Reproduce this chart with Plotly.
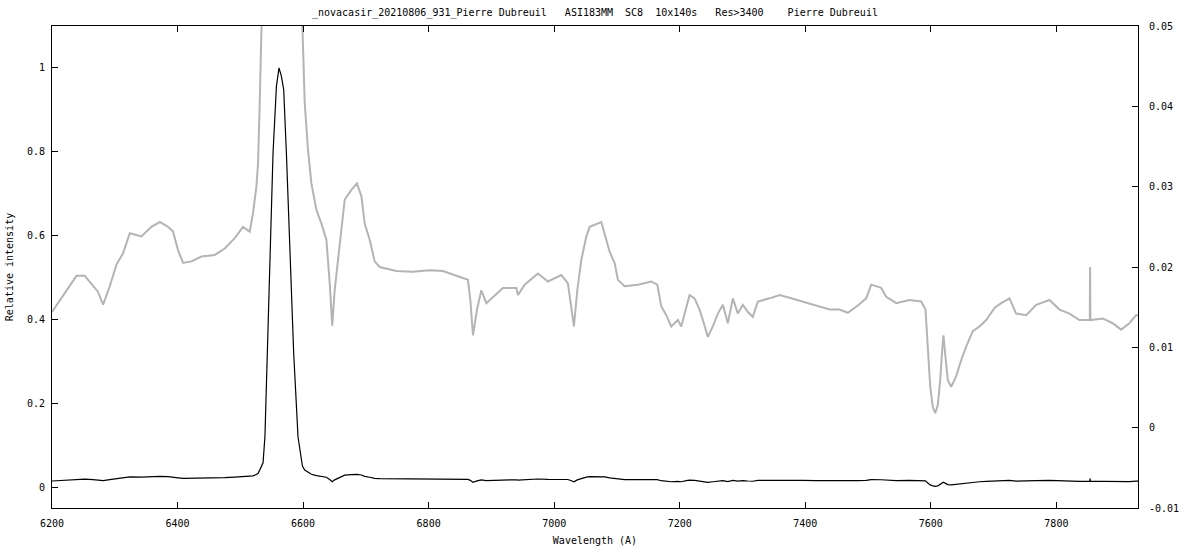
import plotly.graph_objects as go

# Wavelength (Angstrom) and relative intensity
wavelength = [
    6200, 6220.4, 6239.0, 6252.2, 6265.4, 6273.4, 6281.4, 6292.0, 6302.7, 6313.2,
    6323.9, 6342.5, 6358.4, 6371.7, 6384.9, 6392.8, 6400.8, 6408.8, 6422.1, 6438.1,
    6459.2, 6475.2, 6491.1, 6504.3, 6515.0, 6520.2, 6525.6, 6528.2, 6530.9, 6536.2,
    6539.2, 6541.6, 6546.8, 6552.1, 6557.5, 6561.6, 6565.5, 6569.1, 6573.4, 6578.7,
    6585.0, 6591.9, 6598.9, 6602.6, 6607.8, 6613.2, 6621.2, 6629.2, 6637.1, 6642.4,
    6646.4, 6650.3, 6658.3, 6666.3, 6676.9, 6685.8, 6692.9, 6698.1, 6706.1, 6714.0,
    6722.0, 6748.6, 6775.0, 6801.6, 6822.8, 6844.1, 6862.6, 6866.4, 6870.6, 6877.0,
    6883.9, 6891.9, 6902.4, 6918.3, 6939.7, 6942.2, 6952.9, 6974.1, 6990.0, 7011.3,
    7021.8, 7027.3, 7031.4, 7036.8, 7043.2, 7051.2, 7056.4, 7075.1, 7080.3, 7088.3,
    7096.3, 7101.5, 7112.2, 7133.3, 7154.7, 7164.2, 7170.6, 7178.5, 7186.5, 7197.0,
    7202.4, 7210.4, 7215.6, 7223.6, 7231.6, 7236.8, 7244.8, 7252.7, 7260.7, 7268.7,
    7276.6, 7284.6, 7292.6, 7300.5, 7308.5, 7316.4, 7324.4, 7343.0, 7359.0, 7377.6,
    7396.1, 7417.4, 7438.6, 7454.5, 7467.7, 7483.6, 7497.0, 7505.0, 7520.9, 7528.9,
    7544.8, 7566.0, 7584.6, 7591.5, 7595.2, 7599.0, 7603.1, 7607.0, 7611.1, 7614.9,
    7618.1, 7620.1, 7623.3, 7627.0, 7632.4, 7640.4, 7648.3, 7656.3, 7666.8, 7677.5,
    7688.2, 7701.4, 7712.0, 7725.3, 7735.9, 7751.9, 7767.8, 7789.0, 7804.9, 7820.9,
    7836.8, 7853.2, 7853.7, 7854.2, 7873.8, 7889.7, 7903.1, 7916.3, 7927.0, 7930.0,
]
intensity = [
    0.0144, 0.0167, 0.0189, 0.0189, 0.0176, 0.0169, 0.0153, 0.0176, 0.0203, 0.0217,
    0.0242, 0.0238, 0.0250, 0.0256, 0.0250, 0.0244, 0.0221, 0.0205, 0.0207, 0.0213,
    0.0215, 0.0223, 0.0236, 0.0250, 0.0244, 0.0267, 0.0300, 0.0329, 0.0404, 0.0580,
    0.1200, 0.2420, 0.5190, 0.7970, 0.9560, 1.0000, 0.9800, 0.9480, 0.7970, 0.5580,
    0.3200, 0.1200, 0.0499, 0.0404, 0.0346, 0.0304, 0.0271, 0.0254, 0.0234, 0.0180,
    0.0127, 0.0171, 0.0230, 0.0284, 0.0296, 0.0304, 0.0288, 0.0254, 0.0234, 0.0207,
    0.0200, 0.0195, 0.0194, 0.0196, 0.0195, 0.0189, 0.0184, 0.0159, 0.0115, 0.0147,
    0.0171, 0.0155, 0.0163, 0.0174, 0.0174, 0.0165, 0.0178, 0.0192, 0.0182, 0.0190,
    0.0180, 0.0151, 0.0126, 0.0171, 0.0209, 0.0238, 0.0250, 0.0256, 0.0242, 0.0219,
    0.0205, 0.0184, 0.0176, 0.0178, 0.0182, 0.0178, 0.0151, 0.0140, 0.0126, 0.0134,
    0.0126, 0.0151, 0.0165, 0.0161, 0.0147, 0.0134, 0.0113, 0.0126, 0.0142, 0.0153,
    0.0130, 0.0161, 0.0142, 0.0153, 0.0144, 0.0138, 0.0157, 0.0161, 0.0165, 0.0161,
    0.0157, 0.0152, 0.0147, 0.0147, 0.0143, 0.0152, 0.0161, 0.0178, 0.0174, 0.0163,
    0.0155, 0.0159, 0.0157, 0.0147, 0.0097, 0.0051, 0.0026, 0.0018, 0.0028, 0.0059,
    0.0097, 0.0115, 0.0088, 0.0059, 0.0051, 0.0064, 0.0084, 0.0101, 0.0120, 0.0126,
    0.0134, 0.0149, 0.0155, 0.0161, 0.0142, 0.0140, 0.0153, 0.0159, 0.0147, 0.0142,
    0.0134, 0.0134, 0.0200, 0.0134, 0.0136, 0.0130, 0.0122, 0.0130, 0.0140, 0.0140,
]

x_ticks = [6200, 6400, 6600, 6800, 7000, 7200, 7400, 7600, 7800]
x_ticktext = ["6200", "6400", "6600", "6800", "7000", "7200", "7400", "7600", "7800"]
y_ticks = [0, 0.2, 0.4, 0.6, 0.8, 1]
y_ticktext = ["0", "0.2", "0.4", "0.6", "0.8", "1"]
y2_ticks = [-0.01, 0, 0.01, 0.02, 0.03, 0.04, 0.05]
y2_ticktext = ["-0.01", "0", "0.01", "0.02", "0.03", "0.04", "0.05"]

title_text = ("_novacasir_20210806_931_Pierre Dubreuil   ASI183MM  SC8  10x140s   "
              "Res>3400    Pierre Dubreuil").replace(" ", "\u00a0")

FONT = "DejaVu Sans Mono"

fig = go.Figure()
fig.add_trace(go.Scatter(x=wavelength, y=intensity, mode="lines", yaxis="y2",
                         line=dict(color="#b4b4b4", width=2), showlegend=False,
                         hoverinfo="skip"))
fig.add_trace(go.Scatter(x=wavelength, y=intensity, mode="lines", yaxis="y",
                         line=dict(color="#000000", width=1.2), showlegend=False))

axis_common = dict(showgrid=False, zeroline=False, showline=True, linecolor="black",
                   linewidth=1, ticks="inside", ticklen=6, tickcolor="black",
                   tickfont=dict(family=FONT, size=10, color="black"))

fig.update_layout(
    width=1200, height=550,
    margin=dict(l=52, r=62, t=26, b=42, autoexpand=False),
    paper_bgcolor="white", plot_bgcolor="white",
    font=dict(family=FONT, size=10, color="black"),
    xaxis=dict(range=[6200, 7930], tickvals=x_ticks, ticktext=x_ticktext,
               mirror="ticks", ticklabelstandoff=6,
               title=dict(text="Wavelength (A)", font=dict(family=FONT, size=10), standoff=8),
               **axis_common),
    yaxis=dict(range=[-0.05, 1.1], tickvals=y_ticks, ticktext=y_ticktext,
               ticklabelstandoff=4,
               title=dict(text="Relative intensity", font=dict(family=FONT, size=10), standoff=11),
               **axis_common),
    yaxis2=dict(range=[-0.01, 0.05], tickvals=y2_ticks, ticktext=y2_ticktext,
                overlaying="y", side="right", ticklabelstandoff=8,
                **axis_common),
    annotations=[dict(text=title_text, xref="paper", yref="paper", x=0.5, y=1.027,
                      showarrow=False, xanchor="center", yanchor="middle",
                      font=dict(family=FONT, size=10, color="black"))],
)

# Remove the browser's default 8px body margin so the figure sits at the page corner
fig.write_html("out.html", config={"displayModeBar": False},
               post_script="document.body.style.margin='0px';")
